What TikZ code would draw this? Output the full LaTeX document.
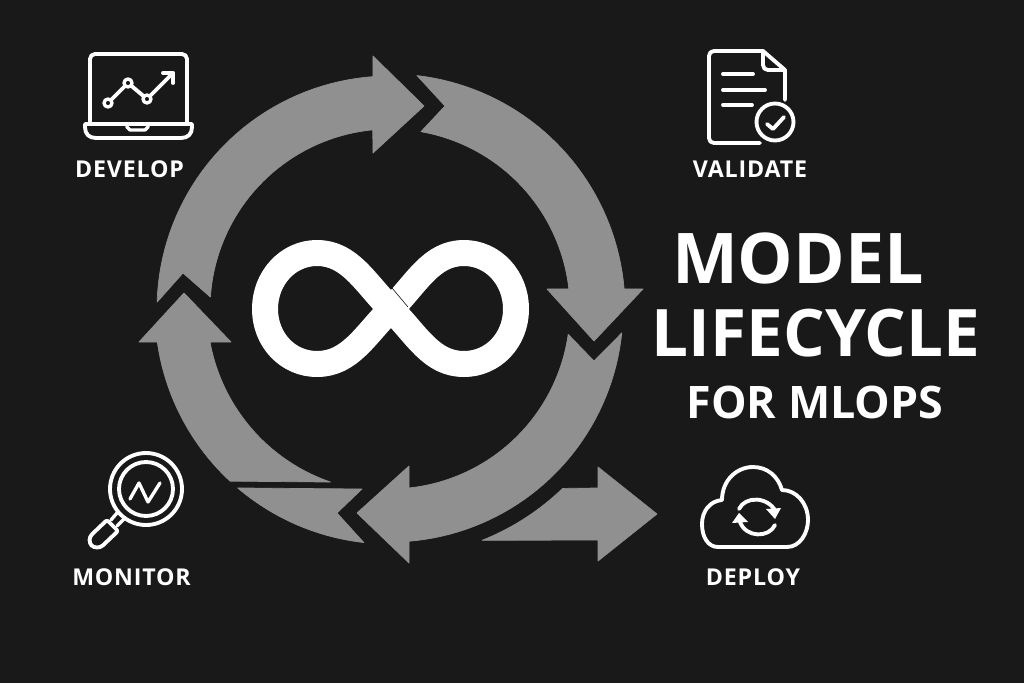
\documentclass[tikz,border=0pt]{standalone}
\usepackage{fontspec}
\setmainfont{Open Sans}
\newfontfamily\labfont[LetterSpace=3.5]{Open Sans}
\definecolor{bgc}{HTML}{191919}
\definecolor{ringc}{HTML}{909090}
\newcommand{\pxfont}[1]{\fontsize{#1}{#1}\selectfont\bfseries}
\tikzset{
  ringshape/.style={fill=ringc,draw=ringc,line width=0.4pt,line join=round},
  icon/.style={draw=white,line width=2.2pt,line cap=round,line join=round},
  iconthin/.style={draw=white,line width=1.9pt,line cap=round,line join=round},
  lab/.style={text=white,anchor=base,inner sep=0pt,font=\labfont\pxfont{13.2pt}},
  ttl/.style={text=white,anchor=base,inner sep=0pt},
}
\begin{document}
\begin{tikzpicture}[x=0.02cm,y=-0.02cm]
\useasboundingbox (0,0) rectangle (1024,683);
\fill[bgc] (0,0) rectangle (1024,683);
% ring arrows
\def\cx{390}\def\cy{309}
% arrow 1
\path[ringshape] plot[domain=181.7:265.8,samples=40] ({\cx+233*cos(\x)},{\cy+233*sin(\x)})
  -- (373,56) -- (424,106) -- (373,153)
  -- plot[domain=264.5:183.8,samples=40] ({\cx+180*cos(\x)},{\cy+180*sin(\x)})
  -- (183,273) -- cycle;
% arrow 2
\path[ringshape] plot[domain=276.6:355.1,samples=40] ({\cx+235*cos(\x)},{\cy+235*sin(\x)})
  -- (643,289) -- (594,341) -- (547,289)
  -- plot[domain=353.6:279.9,samples=40] ({\cx+180*cos(\x)},{\cy+180*sin(\x)})
  -- (445,106) -- cycle;
% arrow 3
\path[ringshape] plot[domain=5.9:85.3,samples=40] ({\cx+233*cos(\x)},{\cy+233*sin(\x)})
  -- (409,563) -- (357,513) -- (409,466)
  -- plot[domain=83.9:8.1,samples=40] ({\cx+180*cos(\x)},{\cy+180*sin(\x)})
  -- (594,361) -- cycle;
% arrow 4 (tail piece, lower left)
\path[ringshape] plot[domain=96.4:130.4,samples=30] ({\cx+235*cos(\x)},{\cy+235*sin(\x)})
  -- (362,489) -- (337,513) -- cycle;
% arrow 5 (left)
\path[ringshape] plot[domain=109:169.5,samples=40] ({\cx+183*cos(\x)},{\cy+183*sin(\x)})
  -- (212,342) -- (231,342) -- (184,293) -- (139,342) -- (159,342)
  -- plot[domain=171.9:132.9,samples=40] ({\cx+235*cos(\x)},{\cy+235*sin(\x)})
  -- cycle;
% arrow 6 (deploy)
\path[ringshape] plot[domain=68.3:46.1,samples=30] ({\cx+249*cos(\x)},{\cy+249*sin(\x)})
  -- (598,488) -- (598,467) -- (657,514) -- (598,561) -- (598,540) -- cycle;
% infinity
\draw[white,line width=14.8pt,line join=round]
  (391,309) .. controls (365,283) and (350,253) .. (317,253)
  .. controls (288,253) and (265,278) .. (265,309)
  .. controls (265,340) and (288,364) .. (317,364)
  .. controls (350,364) and (365,335) .. (391,309)
  .. controls (417,283) and (431,253) .. (464,253)
  .. controls (493,253) and (516,278) .. (516,309)
  .. controls (516,340) and (493,364) .. (464,364)
  .. controls (431,364) and (417,335) .. (391,309) -- cycle;
\draw[bgc,line width=0.35pt] (392,288) -- (408,307);
% laptop icon
\draw[icon] (90,123) -- (90,59) arc[start angle=180,delta angle=90,radius=5] -- (182,54) arc[start angle=270,delta angle=90,radius=5] -- (187,123);
\draw[icon] (85,124) -- (192,124) -- (192,127) .. controls (192,134) and (188,138) .. (181,138) -- (96,138) .. controls (89,138) and (85,134) .. (85,127) -- cycle;
\draw[iconthin] (127,124) -- (127,127) -- (130,130) -- (145,130) -- (148,127) -- (148,124);
\coordinate (p1) at (108,103);\coordinate (p2) at (128,83);\coordinate (p3) at (147,99);\coordinate (p4) at (173,73);
\draw[icon] (p1) -- (p2) -- (p3) -- (p4);
\draw[icon] (163,73) -- (p4) -- (173,83);
\foreach \p in {p1,p2,p3} \draw[iconthin,fill=bgc] (\p) circle (4);
% document icon
\draw[icon] (785,100) -- (785,70) -- (763,51) -- (714,51) .. controls (711,51) and (709,53) .. (709,56) -- (709,138) .. controls (709,141) and (711,143) .. (714,143) -- (760,143);
\draw[icon] (763,51) -- (763,65) .. controls (763,68) and (765,70) .. (768,70) -- (785,70);
\draw[icon] (723,74) -- (753,74);
\draw[icon] (723,90) -- (765,90);
\draw[icon] (723,105) -- (752,105);
\draw[icon] (775,122) circle (18.5);
\draw[icon] (767,124) -- (773,129) -- (784,117);
% magnifier icon
\draw[icon] (146,489) circle (36);
\draw[icon] (146,489) circle (27);
\draw[iconthin] (130,499) -- (139,483) -- (148,502) -- (160,483);
\draw[iconthin] (111,520) -- (117,513);
\draw[iconthin] (117,526) -- (124,519);
\draw[icon] [rounded corners=0.04cm] (112.5,525.5) -- (107,520) [rounded corners=0.17cm] -- (86,540) -- (97,551) [rounded corners=0.04cm] -- (118,531) -- cycle;
% cloud icon
\draw[icon] (718,547) -- (787,547) .. controls (800,547) and (808,533) .. (808,520)
  .. controls (808,503) and (796,490) .. (782,490)
  .. controls (778,476) and (767,467) .. (753,467)
  .. controls (737,467) and (722,480) .. (722,500)
  .. controls (710,501) and (702,511) .. (702,524)
  .. controls (702,537) and (708,547) .. (718,547) -- cycle;
\draw[icon] (739,509) .. controls (745,496) and (768,496) .. (776,512);
\draw[icon] (775,525) .. controls (769,538) and (746,538) .. (740,522);
\fill[white] (766,509) -- (781,508) -- (775,519) -- cycle;
\fill[white] (732,523) -- (748,522) -- (739,513) -- cycle;
% labels
\node[lab] (develop) at (129.5,177) {DEVELOP};
\node[lab] (validate) at (750,177) {VALIDATE};
\node[lab] (monitor) at (131.5,585) {MONITOR};
\node[lab] (deploy) at (753,585) {DEPLOY};
\node[ttl,font=\pxfont{39.8pt}] (t1) at (798,283) {MODEL};
\node[ttl,font=\pxfont{37.3pt}] (t2) at (816,356) {LIFECYCLE};
\node[ttl,font=\pxfont{25.5pt}] (t3) at (815,418) {FOR MLOPS};
\end{tikzpicture}
\end{document}
